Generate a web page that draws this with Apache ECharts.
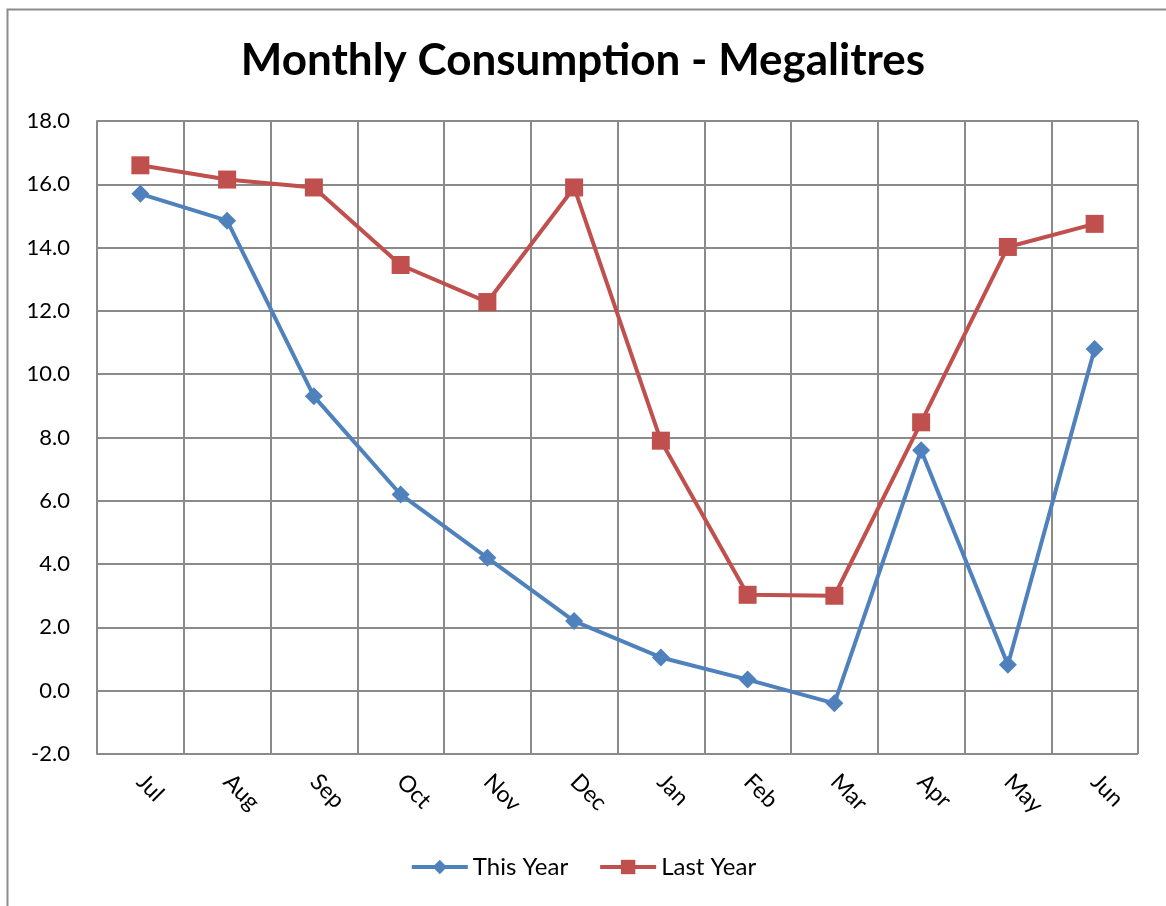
<!DOCTYPE html>
<html>
<head>
<meta charset="utf-8">
<script src="https://cdn.jsdelivr.net/npm/echarts@6/dist/echarts.min.js"></script>
<style>
  html, body { margin: 0; padding: 0; background: #fff; }
  #chart { width: 1166px; height: 906px; }
</style>
</head>
<body>
<div id="chart"></div>
<script>
const months = ["Jul", "Aug", "Sep", "Oct", "Nov", "Dec", "Jan", "Feb", "Mar", "Apr", "May", "Jun"];
const thisYear = [15.7, 14.85, 9.3, 6.2, 4.2, 2.2, 1.05, 0.35, -0.4, 7.6, 0.82, 10.8];
const lastYear = [16.6, 16.15, 15.9, 13.45, 12.28, 15.9, 7.9, 3.03, 3.0, 8.48, 14.02, 14.75];

const gridColor = "#8a8a8a";
const font = "Lato, 'Open Sans', sans-serif";

const chart = echarts.init(document.getElementById("chart"));
chart.setOption({
  animation: false,
  textStyle: { fontFamily: font },
  title: {
    text: "Monthly Consumption - Megalitres",
    left: "center",
    top: 34,
    textStyle: { fontSize: 44, fontWeight: "bold", color: "#000", fontFamily: font }
  },
  graphic: [{
    type: "rect",
    shape: { x: 7.5, y: 9.5, width: 1200, height: 950 },
    style: { fill: "none", stroke: "#8c8c8c", lineWidth: 2 },
    silent: true
  }],
  grid: { left: 97, right: 28, top: 121, bottom: 152 },
  legend: {
    bottom: 22,
    left: "center",
    itemWidth: 56,
    itemHeight: 18,
    itemGap: 30,
    textStyle: { fontSize: 24, color: "#000", fontFamily: font },
    data: [
      { name: "This Year", lineStyle: { width: 4 } },
      { name: "Last Year", lineStyle: { width: 4 } }
    ]
  },
  xAxis: {
    type: "category",
    data: months,
    boundaryGap: true,
    axisLine: { lineStyle: { color: gridColor, width: 2 } },
    axisTick: { show: false },
    splitLine: { show: true, lineStyle: { color: gridColor, width: 2 } },
    axisLabel: { rotate: -45, margin: 24, fontSize: 23, color: "#000", fontFamily: font }
  },
  yAxis: {
    type: "value",
    min: -2,
    max: 18,
    interval: 2,
    axisLine: { show: true, lineStyle: { color: gridColor, width: 2 } },
    axisTick: { show: false },
    splitLine: { show: true, lineStyle: { color: gridColor, width: 2 } },
    axisLabel: {
      margin: 27,
      fontSize: 22,
      color: "#000",
      fontFamily: font,
      formatter: v => v.toFixed(1)
    }
  },
  series: [
    {
      name: "This Year",
      type: "line",
      data: thisYear,
      symbol: "diamond",
      symbolSize: 18,
      lineStyle: { color: "#4F81BD", width: 4 },
      itemStyle: { color: "#4F81BD" }
    },
    {
      name: "Last Year",
      type: "line",
      data: lastYear,
      symbol: "rect",
      symbolSize: 18,
      lineStyle: { color: "#C0504D", width: 4 },
      itemStyle: { color: "#C0504D" }
    }
  ]
});
</script>
</body>
</html>
